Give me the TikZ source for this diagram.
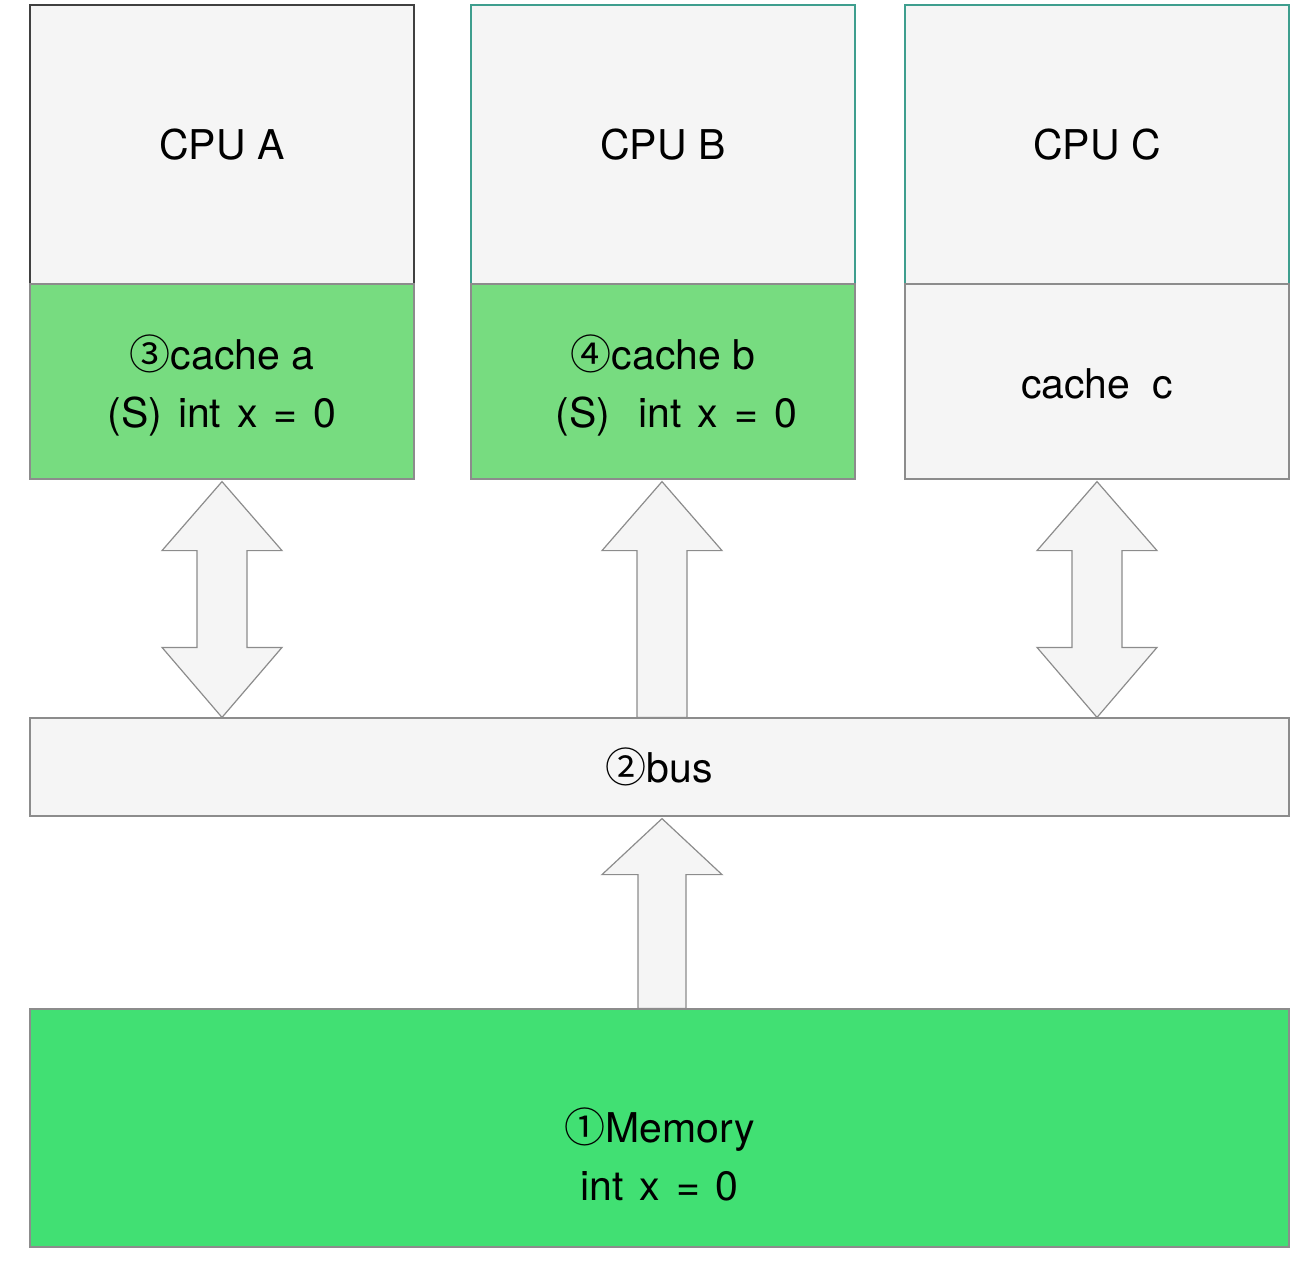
\documentclass[tikz,border=0pt]{standalone}
\usepackage{fontspec}
\setmainfont{TeX Gyre Heros}
\newfontfamily\cfont{Noto Sans CJK SC}
\usetikzlibrary{calc}
\definecolor{boxgray}{HTML}{F5F5F5}
\definecolor{edgegray}{HTML}{8C8C8C}
\definecolor{cachegreen}{HTML}{77DC80}
\definecolor{memgreen}{HTML}{41E073}
\definecolor{tealedge}{HTML}{3E9E8E}
\newcommand\wsp{\spaceskip=16pt\relax}
\tikzset{
  base/.style={rectangle, inner sep=0pt, line width=1.2pt, font=\fontsize{41}{58}\selectfont, align=center},
  cpubox/.style={base, fill=boxgray, draw=tealedge, minimum width=384pt, minimum height=279pt},
  cachebox/.style={base, fill=cachegreen, draw=edgegray, minimum width=384pt, minimum height=195pt},
  plainbox/.style={base, fill=boxgray, draw=edgegray},
  blockarrow/.style={fill=boxgray, draw=edgegray, line width=1.2pt, line join=miter},
  txt/.style={inner sep=0pt, font=\fontsize{41}{58}\selectfont, align=center}
}
\newcommand\ci[1]{{\cfont #1}}
\begin{document}
\begin{tikzpicture}[x=1pt,y=-1pt]
\useasboundingbox (0,0) rectangle (1306,1264);
% CPUs
\node[cpubox, draw=black!75] (cpuA) at (222,144.5) {CPU A};
\node[cpubox] (cpuB) at (663,144.5) {CPU B};
\node[cpubox] (cpuC) at (1097,144.5) {CPU C};
% caches
\node[cachebox, label={[txt, yshift=-4pt]center:\ci{③}cache a\\\wsp (S) int x = 0}] (cacheA) at (222,381.5) {};
\node[cachebox, label={[txt, yshift=-4pt]center:\ci{④}cache b\\\wsp\hspace*{27pt}(S)\hspace{28pt}int x = 0}] (cacheB) at (663,381.5) {};
\node[cachebox, fill=boxgray, label={[txt, yshift=-2pt]center:cache\hspace{22pt}c}] (cacheC) at (1097,381.5) {};
% bus and memory
\node[plainbox, minimum width=1259pt, minimum height=98pt] (bus) at (659.5,767) {\ci{②}bus};
\node[plainbox, fill=memgreen, minimum width=1259pt, minimum height=238pt] (mem) at (659.5,1128) {};
\node[txt] (memtext) at ($(mem.center)+(0,26.5)$) {\ci{①}Memory\\\wsp int x = 0};
% arrows
\coordinate (aT) at ($(cacheA.south)+(0,2)$);
\coordinate (aB) at (bus.north -| aT);
\path[blockarrow] (aT) -- ++(60,69) -- ++(-35,0) -- ($(aB)+(25,-70)$) -- ++(35,0) -- (aB)
  -- ++(-60,-70) -- ++(35,0) -- ($(aT)+(-25,69)$) -- ++(-35,0) -- cycle;
\coordinate (cT) at ($(cacheC.south)+(0,2)$);
\coordinate (cB) at (bus.north -| cT);
\path[blockarrow] (cT) -- ++(60,69) -- ++(-35,0) -- ($(cB)+(25,-70)$) -- ++(35,0) -- (cB)
  -- ++(-60,-70) -- ++(35,0) -- ($(cT)+(-25,69)$) -- ++(-35,0) -- cycle;
\coordinate (bT) at ($(cacheB.south)+(-1,2)$);
\coordinate (bB) at (bus.north -| bT);
\path[blockarrow] (bT) -- ++(60,69) -- ++(-35,0) -- ($(bB)+(25,0)$) -- ($(bB)+(-25,0)$)
  -- ($(bT)+(-25,69)$) -- ++(-35,0) -- cycle;
\coordinate (mT) at ($(bus.south -| bT)+(0,2)$);
\coordinate (mB) at (mem.north -| mT);
\path[blockarrow] (mT) -- ++(60,56) -- ++(-36,0) -- ($(mB)+(24,0)$) -- ($(mB)+(-24,0)$)
  -- ($(mT)+(-24,56)$) -- ++(-36,0) -- cycle;
\end{tikzpicture}
\end{document}
